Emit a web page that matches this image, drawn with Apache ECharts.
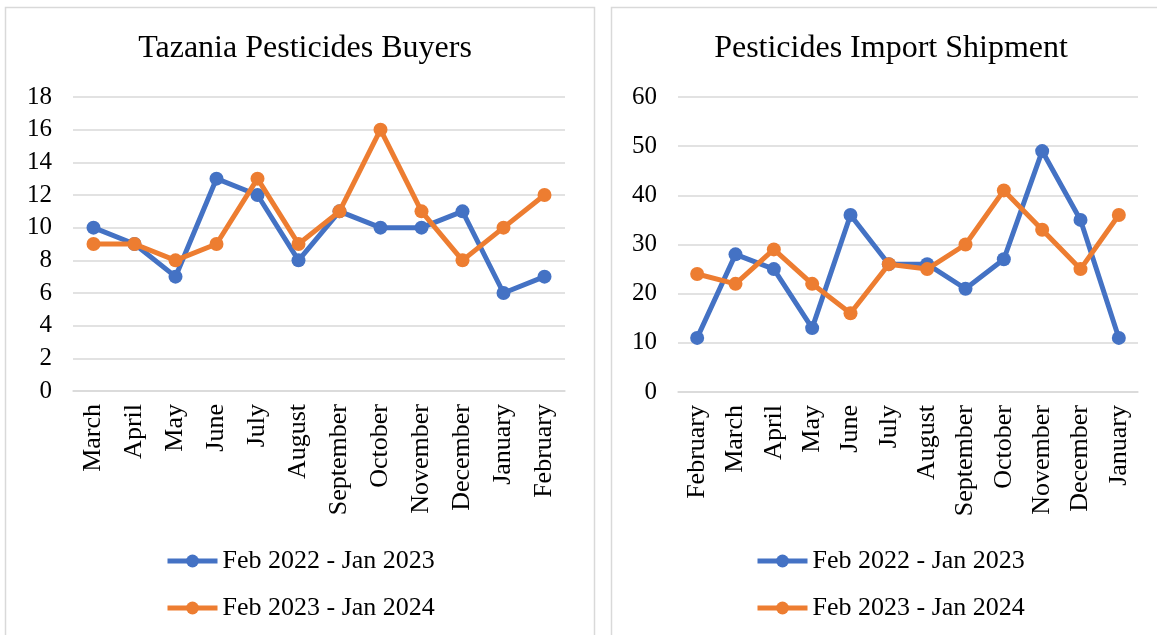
<!DOCTYPE html>
<html>
<head>
<meta charset="utf-8">
<script src="https://cdn.jsdelivr.net/npm/echarts@6/dist/echarts.min.js"></script>
<style>
  html, body { margin: 0; padding: 0; background: #fff; }
  #chart { width: 1157px; height: 635px; }
</style>
</head>
<body>
<div id="chart"></div>
<script>
// Tanzania pesticide buyers by month
const buyersMonths = ['March', 'April', 'May', 'June', 'July', 'August', 'September', 'October', 'November', 'December', 'January', 'February'];
const buyers2022 = [10, 9, 7, 13, 12, 8, 11, 10, 10, 11, 6, 7];
const buyers2023 = [9, 9, 8, 9, 13, 9, 11, 16, 11, 8, 10, 12];

// Pesticide import shipments by month
const shipMonths = ['February', 'March', 'April', 'May', 'June', 'July', 'August', 'September', 'October', 'November', 'December', 'January'];
const ship2022 = [11, 28, 25, 13, 36, 26, 26, 21, 27, 49, 35, 11];
const ship2023 = [24, 22, 29, 22, 16, 26, 25, 30, 41, 33, 25, 36];

const seriesNames = ['Feb 2022 - Jan 2023', 'Feb 2023 - Jan 2024'];
const titles = ['Tazania Pesticides Buyers', 'Pesticides Import Shipment'];

const FONT = '"Liberation Serif", "Times New Roman", serif';
const BLUE = '#4472C4';
const ORANGE = '#ED7D31';
const GRID_GREY = '#D9D9D9';

function catAxis(idx, data) {
  return {
    type: 'category', gridIndex: idx, data: data,
    axisLine: { lineStyle: { color: GRID_GREY, width: 1.5 } },
    axisTick: { show: false },
    axisLabel: { rotate: 90, color: '#000', fontFamily: FONT, fontSize: 26, margin: 13, interval: 0 }
  };
}
function valAxis(idx, max, interval) {
  return {
    type: 'value', gridIndex: idx, min: 0, max: max, interval: interval,
    axisLine: { show: false }, axisTick: { show: false },
    axisLabel: { color: '#000', fontFamily: FONT, fontSize: 25, margin: 21 },
    splitLine: { lineStyle: { color: GRID_GREY, width: 1.5 } }
  };
}
function lineSeries(name, color, idx, data) {
  return {
    type: 'line', name: name, xAxisIndex: idx, yAxisIndex: idx, data: data,
    symbol: 'circle', symbolSize: 14,
    lineStyle: { color: color, width: 5 },
    itemStyle: { color: color },
    z: name === seriesNames[1] ? 3 : 2
  };
}
function legend(left) {
  return {
    orient: 'vertical', left: left, top: 548, padding: 0,
    itemWidth: 50, itemHeight: 16, itemGap: 21,
    data: seriesNames,
    lineStyle: { width: 5 },
    textStyle: { color: '#000', fontFamily: FONT, fontSize: 26 },
    selectedMode: false
  };
}

const chart = echarts.init(document.getElementById('chart'), null, { renderer: 'canvas' });
chart.setOption({
  backgroundColor: '#fff',
  animation: false,
  graphic: [
    { type: 'rect', shape: { x: 5.5, y: 7.5, width: 589, height: 660 }, style: { fill: 'none', stroke: GRID_GREY, lineWidth: 1.5 }, z: -10 },
    { type: 'rect', shape: { x: 611.5, y: 7.5, width: 580, height: 660 }, style: { fill: 'none', stroke: GRID_GREY, lineWidth: 1.5 }, z: -10 }
  ],
  title: [
    { text: titles[0], left: 300, top: 28, textAlign: 'center', textStyle: { fontFamily: FONT, fontSize: 32, fontWeight: 'normal', color: '#000' } },
    { text: titles[1], left: 886, top: 28, textAlign: 'center', textStyle: { fontFamily: FONT, fontSize: 32, fontWeight: 'normal', color: '#000' } }
  ],
  legend: [legend(165), legend(755)],
  grid: [
    { left: 73, top: 97, width: 492, height: 294 },
    { left: 678, top: 97, width: 460, height: 295 }
  ],
  xAxis: [catAxis(0, buyersMonths), catAxis(1, shipMonths)],
  yAxis: [valAxis(0, 18, 2), valAxis(1, 60, 10)],
  series: [
    lineSeries(seriesNames[0], BLUE, 0, buyers2022),
    lineSeries(seriesNames[1], ORANGE, 0, buyers2023),
    lineSeries(seriesNames[0], BLUE, 1, ship2022),
    lineSeries(seriesNames[1], ORANGE, 1, ship2023)
  ]
});
</script>
</body>
</html>
